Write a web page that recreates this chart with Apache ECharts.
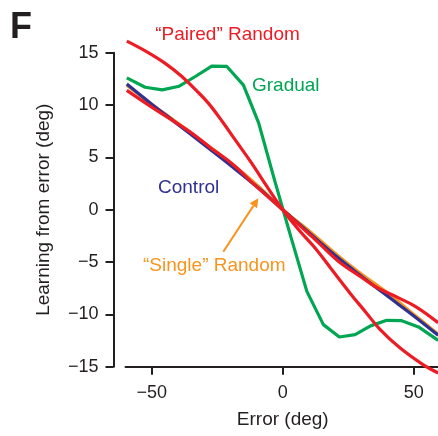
<!DOCTYPE html>
<html>
<head>
<meta charset="utf-8">
<script src="https://cdn.jsdelivr.net/npm/echarts@6/dist/echarts.min.js"></script>
<style>
  html, body { margin: 0; padding: 0; background: #fff; }
  #chart { width: 438px; height: 436px; }
</style>
</head>
<body>
<div id="chart"></div>
<script>
// Error (deg) vs learning from error (deg)
var controlX = [-59.5, -50.6, -40, -30, -20, -8.7, 0, 10, 21.1, 30, 40.2, 50, 59.3];
var controlY = [12.0, 10.2, 8.15, 6.2, 4.25, 1.95, 0, -2.2, -4.6, -6.35, -8.3, -10.15, -12.0];

var singleX = [-59.5, -50.6, -40, -30, -20, -8.7, 0, 10, 21.1, 30, 40.2, 50, 59.3];
var singleY = [11.9, 10.2, 8.25, 6.4, 4.5, 2.1, 0, -2.0, -4.4, -6.15, -8.0, -10.0, -11.9];

var otherRedX = [-59.5, -50.6, -40, -33, -27.7, -18.9, -10, 0, 6, 12.8, 21.1, 30, 36, 44, 51, 59.3];
var otherRedY = [11.4, 9.9, 8.2, 7.0, 5.95, 4.3, 2.2, 0, -1.4, -2.95, -4.9, -6.45, -7.45, -8.4, -9.3, -10.8];

var pairedX = [-59.5, -52, -45, -38.5, -33, -28.4, -23, -18.2, -12, -6, 0, 6, 12.8, 19.2, 25.6, 31.9, 37, 44.7, 53.5, 59.3];
var pairedY = [16.1, 15.1, 14.0, 12.73, 11.4, 10.18, 8.4, 6.69, 4.5, 2.2, 0, -1.9, -3.8, -5.89, -7.95, -9.86, -11.4, -13.2, -14.8, -15.6];

var gradualX = [-59.5, -52.5, -46, -39.5, -33.2, -27.1, -21.4, -15, -9.2, -3.1, 3.1, 9.2, 15.5, 21.6, 27.6, 33.5, 39.7, 45.4, 51.8, 59.3];
var gradualY = [12.6, 11.7, 11.45, 11.8, 12.75, 13.72, 13.7, 11.9, 8.3, 2.8, -2.6, -7.8, -10.98, -12.16, -11.94, -11.1, -10.57, -10.6, -11.2, -12.48];

var xTicks = [-50, 0, 50];

var RED = '#ed1c24', GREEN = '#00a651', BLUE = '#2e3192', ORANGE = '#f7941d';
var INK = '#231f20';
var FONT = '"Liberation Sans", Arial, sans-serif';

function pairs(xs, ys) {
  var out = [];
  for (var i = 0; i < xs.length; i++) out.push([xs[i], ys[i]]);
  return out;
}
function minus(v) { return String(v).replace('-', '\u2212'); }

function curve(name, xs, ys, color, smooth) {
  return {
    name: name,
    type: 'line',
    data: pairs(xs, ys),
    symbol: 'none',
    smooth: smooth,
    clip: false,
    lineStyle: { color: color, width: 3.2 },
    itemStyle: { color: color }
  };
}

var myChart = echarts.init(document.getElementById('chart'));

// arrow for "Single" Random label
var tail = [223.3, 251.7], tip = [258.3, 198.3];
var dx = tip[0] - tail[0], dy = tip[1] - tail[1];
var len = Math.sqrt(dx * dx + dy * dy);
var ux = dx / len, uy = dy / len;
var base = [tip[0] - 9 * ux, tip[1] - 9 * uy];

var option = {
  backgroundColor: '#fff',
  animation: false,
  textStyle: { fontFamily: FONT },
  grid: { left: 125.5, right: -2, top: 52.7, bottom: 69.3, outerBoundsMode: 'none' },
  xAxis: {
    type: 'value',
    min: -60,
    max: 60,
    name: 'Error (deg)',
    nameLocation: 'middle',
    nameGap: 44,
    nameTextStyle: { color: INK, fontSize: 19, fontFamily: FONT },
    axisLine: { onZero: false, lineStyle: { color: INK, width: 2 } },
    axisTick: { show: true, length: 8, lineStyle: { color: INK, width: 2 }, customValues: xTicks },
    axisLabel: { color: INK, fontSize: 18, margin: 17, fontFamily: FONT, customValues: xTicks, formatter: minus },
    splitLine: { show: false }
  },
  yAxis: {
    type: 'value',
    min: -15,
    max: 15,
    interval: 5,
    position: 'left',
    offset: 12,
    name: 'Learning from error (deg)',
    nameLocation: 'middle',
    nameGap: 60,
    nameTextStyle: { color: INK, fontSize: 19, fontFamily: FONT },
    axisLine: { show: true, onZero: false, lineStyle: { color: INK, width: 2 } },
    axisTick: { show: true, length: 8, lineStyle: { color: INK, width: 2 } },
    axisLabel: { color: INK, fontSize: 18, margin: 15, fontFamily: FONT, formatter: minus },
    splitLine: { show: false }
  },
  series: [
    curve('Gradual', gradualX, gradualY, GREEN, false),
    curve('"Single" Random', singleX, singleY, ORANGE, 0.4),
    curve('Control', controlX, controlY, BLUE, 0.4),
    curve('Random', otherRedX, otherRedY, RED, 0.4),
    curve('"Paired" Random', pairedX, pairedY, RED, 0.4)
  ],
  graphic: [
    { type: 'text', left: 10, top: 10, style: { text: 'F', fill: INK, font: 'bold 36px ' + FONT } },
    { type: 'text', x: 227.5, y: 35, style: { text: '\u201cPaired\u201d Random', fill: RED, font: '19px ' + FONT, textAlign: 'center', textVerticalAlign: 'middle' } },
    { type: 'text', x: 252, y: 86, style: { text: 'Gradual', fill: GREEN, font: '19px ' + FONT, textAlign: 'left', textVerticalAlign: 'middle' } },
    { type: 'text', x: 158, y: 188, style: { text: 'Control', fill: BLUE, font: '19px ' + FONT, textAlign: 'left', textVerticalAlign: 'middle' } },
    { type: 'text', x: 143, y: 265.5, style: { text: '\u201cSingle\u201d Random', fill: ORANGE, font: '19px ' + FONT, textAlign: 'left', textVerticalAlign: 'middle' } },
    { type: 'line', shape: { x1: tail[0], y1: tail[1], x2: base[0], y2: base[1] }, style: { stroke: ORANGE, lineWidth: 2 } },
    { type: 'polygon', shape: { points: [tip, [base[0] + 4.5 * -uy, base[1] + 4.5 * ux], [base[0] - 4.5 * -uy, base[1] - 4.5 * ux]] }, style: { fill: ORANGE } }
  ]
};

myChart.setOption(option);
</script>
</body>
</html>
